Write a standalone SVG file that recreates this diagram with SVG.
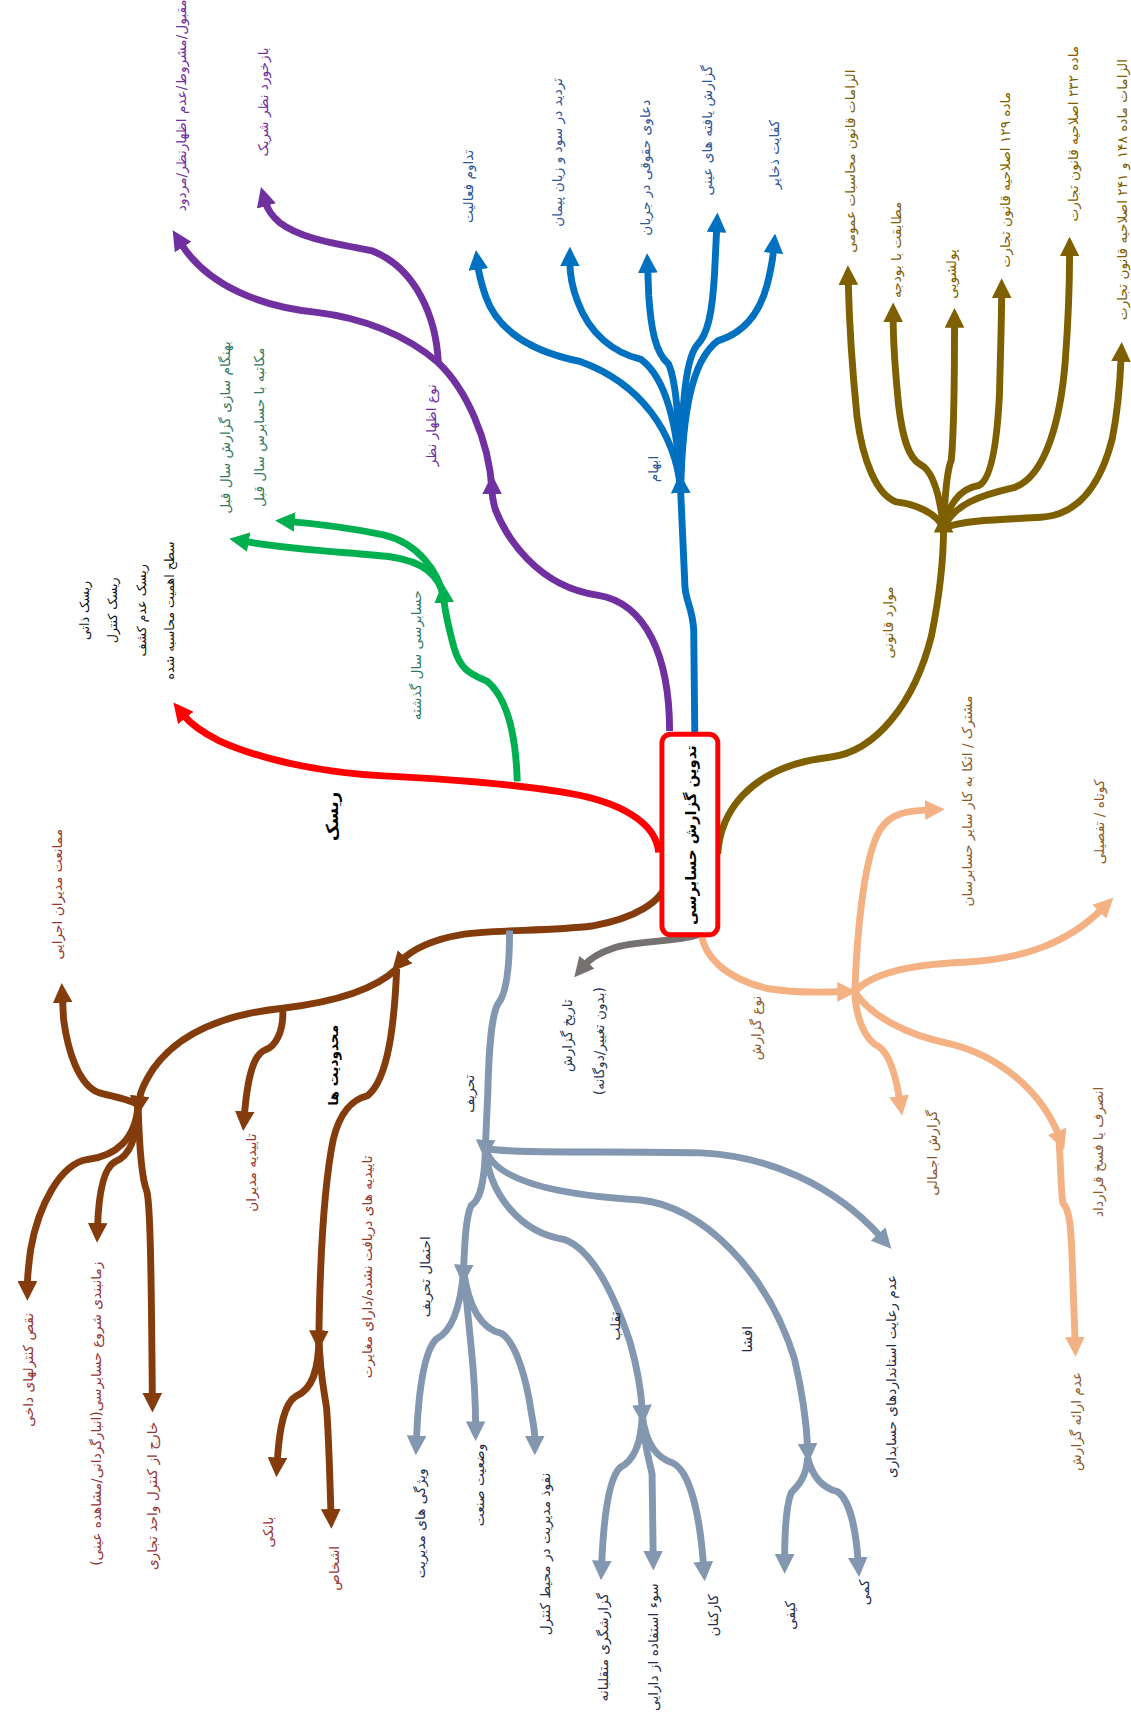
<svg xmlns="http://www.w3.org/2000/svg" width="1131" height="1719" viewBox="0 0 1131 1719">
<style>
.c{fill:none;stroke-width:6.3;stroke-linecap:butt;stroke-linejoin:round}
.t{font-family:"DejaVu Sans","Noto Sans",sans-serif;font-size:12.5px;text-anchor:middle;dominant-baseline:central;direction:rtl}
.b{font-weight:bold;fill:#000}
.k{fill:#111}
.g{fill:#357a63}
.p{fill:#7030a0}
.bl{fill:#2f5597}
.o{fill:#7f6000}
.pe{fill:#8b5a2b}
.gr{fill:#263a55}
.br{fill:#943634}
.gb{fill:#1f2d4a}
</style>
<defs>
<marker id="mR" viewBox="0 0 18 18" refX="4" refY="9" markerWidth="18" markerHeight="18" markerUnits="userSpaceOnUse" orient="auto"><path d="M0,0 L18,9 L0,18 z" fill="#ff0000"/></marker>
<marker id="mG" viewBox="0 0 18 18" refX="4" refY="9" markerWidth="18" markerHeight="18" markerUnits="userSpaceOnUse" orient="auto"><path d="M0,0 L18,9 L0,18 z" fill="#00b050"/></marker>
<marker id="mP" viewBox="0 0 18 18" refX="4" refY="9" markerWidth="18" markerHeight="18" markerUnits="userSpaceOnUse" orient="auto"><path d="M0,0 L18,9 L0,18 z" fill="#7030a0"/></marker>
<marker id="mB" viewBox="0 0 18 18" refX="4" refY="9" markerWidth="18" markerHeight="18" markerUnits="userSpaceOnUse" orient="auto"><path d="M0,0 L18,9 L0,18 z" fill="#0070c0"/></marker>
<marker id="mO" viewBox="0 0 18 18" refX="4" refY="9" markerWidth="18" markerHeight="18" markerUnits="userSpaceOnUse" orient="auto"><path d="M0,0 L18,9 L0,18 z" fill="#7f6000"/></marker>
<marker id="mPe" viewBox="0 0 18 18" refX="4" refY="9" markerWidth="18" markerHeight="18" markerUnits="userSpaceOnUse" orient="auto"><path d="M0,0 L18,9 L0,18 z" fill="#f4b183"/></marker>
<marker id="mGr" viewBox="0 0 18 18" refX="4" refY="9" markerWidth="18" markerHeight="18" markerUnits="userSpaceOnUse" orient="auto"><path d="M0,0 L18,9 L0,18 z" fill="#767171"/></marker>
<marker id="mBr" viewBox="0 0 18 18" refX="4" refY="9" markerWidth="18" markerHeight="18" markerUnits="userSpaceOnUse" orient="auto"><path d="M0,0 L18,9 L0,18 z" fill="#843c0c"/></marker>
<marker id="mGb" viewBox="0 0 18 18" refX="4" refY="9" markerWidth="18" markerHeight="18" markerUnits="userSpaceOnUse" orient="auto"><path d="M0,0 L18,9 L0,18 z" fill="#8497b0"/></marker>
</defs>
<rect width="1131" height="1719" fill="#fff"/>
<g transform="scale(1.0959)">
<g id="connectors">
<path class="c" stroke="#ff0000" marker-end="url(#mR)" d="M601 778 C599 750 565 732 520 724 C470 715 410 711 350 708 C290 705 235 692 200 676 C186 669 175 662 167 652"/>
<path class="c" stroke="#00b050" marker-end="url(#mG)" d="M472 713 C471 680 466 640 445 622 C430 615 420 612 414 590 C410 575 406 560 405 546"/>
<path class="c" stroke="#00b050" marker-end="url(#mG)" d="M405 546 C400 520 380 495 350 488 C320 482 290 478 265 476"/>
<path class="c" stroke="#00b050" marker-end="url(#mG)" d="M405 546 C402 525 385 512 356 508 C320 504 270 502 223 494"/>
<path class="c" stroke="#7030a0" marker-end="url(#mP)" d="M611 667 C611 600 590 550 545 543 C490 535 462 490 452 465 C450 458 449 452 449 447"/>
<path class="c" stroke="#7030a0" marker-end="url(#mP)" d="M449 447 C446 400 425 355 400 331 C370 305 330 290 289 285 C240 280 190 262 165 222"/>
<path class="c" stroke="#7030a0" marker-end="url(#mP)" d="M400 331 C398 290 380 245 340 229 C305 222 275 218 255 203 C248 197 244 191 242 184"/>
<path class="c" stroke="#0070c0" marker-end="url(#mB)" d="M634 670 L633 575 C632 555 626 550 625 535 L621 446"/>
<path class="c" stroke="#0070c0" marker-end="url(#mB)" d="M621 446 C616 395 585 350 530 330 C490 322 455 305 443 270 C439 258 437 250 436 242"/>
<path class="c" stroke="#0070c0" marker-end="url(#mB)" d="M621 446 C619 390 608 345 585 328 C560 322 538 305 527 275 C522 262 520 250 520 239"/>
<path class="c" stroke="#0070c0" marker-end="url(#mB)" d="M621 446 C620 395 618 350 610 332 C598 322 594 300 592 270 L591 245"/>
<path class="c" stroke="#0070c0" marker-end="url(#mB)" d="M621 446 C622 380 624 330 636 315 C646 305 650 285 652 250 L654 208"/>
<path class="c" stroke="#0070c0" marker-end="url(#mB)" d="M621 446 C623 380 630 330 655 311 C675 305 692 290 700 260 C703 248 705 238 706 227"/>
<path class="c" stroke="#7f6000" marker-end="url(#mO)" d="M655 779 C657 745 680 700 757 691 C800 686 835 640 850 580 C858 540 861 505 861 482"/>
<path class="c" stroke="#7f6000" marker-end="url(#mO)" d="M861 482 C855 468 835 460 818 458 C800 452 787 420 782 380 C778 340 775 300 774 256"/>
<path class="c" stroke="#7f6000" marker-end="url(#mO)" d="M861 482 C858 455 852 430 840 424 C828 418 823 395 820 370 C817 340 815 315 815 290"/>
<path class="c" stroke="#7f6000" marker-end="url(#mO)" d="M861 482 C862 455 864 430 868 420 C870 400 871 350 871 295"/>
<path class="c" stroke="#7f6000" marker-end="url(#mO)" d="M861 482 C865 462 875 446 893 443 C905 438 910 400 912 360 C913 320 914 290 914 268"/>
<path class="c" stroke="#7f6000" marker-end="url(#mO)" d="M861 482 C870 460 895 452 925 445 C955 435 968 380 972 330 C975 290 976 260 976 230"/>
<path class="c" stroke="#7f6000" marker-end="url(#mO)" d="M861 482 C880 474 920 474 950 472 C985 470 1005 440 1015 400 C1020 375 1022 350 1023 326"/>
<path class="c" stroke="#f4b183" marker-end="url(#mPe)" d="M640 853 C643 872 660 892 700 902 C730 907 750 905 768 905"/>
<path class="c" stroke="#f4b183" marker-end="url(#mPe)" d="M780 905 C782 850 788 790 800 763 C808 745 820 740 848 739"/>
<path class="c" stroke="#f4b183" marker-end="url(#mPe)" d="M780 905 C795 888 830 880 880 878 C935 875 975 860 1006 829"/>
<path class="c" stroke="#f4b183" marker-end="url(#mPe)" d="M780 905 C781 930 790 950 802 955 C812 962 818 985 821 1004"/>
<path class="c" stroke="#f4b183" marker-end="url(#mPe)" d="M780 905 C795 928 830 945 865 952 C910 962 950 995 966 1036"/>
<path class="c" stroke="#f4b183" marker-end="url(#mPe)" d="M966 1036 C968 1060 968 1090 970 1098 C976 1104 977 1120 978 1140 L981 1224"/>
<path class="c" stroke="#767171" marker-end="url(#mGr)" d="M637 853 C615 860 580 858 560 865 C548 869 538 875 533 881"/>
<path class="c" stroke="#843c0c" marker-end="url(#mBr)" d="M608 805 C605 822 580 838 540 845 C500 850 450 848 420 853 C395 857 375 867 367 876"/>
<path class="c" stroke="#843c0c" marker-end="url(#mBr)" d="M362 884 C340 905 300 915 258 920 C210 925 165 940 140 975 C132 987 128 995 127 1004"/>
<path class="c" stroke="#843c0c" marker-end="url(#mBr)" d="M258 921 C259 940 252 955 242 958 C232 962 226 980 223 1018"/>
<path class="c" stroke="#843c0c" marker-end="url(#mBr)" d="M362 884 C360 930 355 985 335 1000 C322 1003 310 1015 304 1040 C296 1080 292 1150 291 1218"/>
<path class="c" stroke="#843c0c" marker-end="url(#mBr)" d="M291 1220 C291 1250 285 1268 270 1274 C260 1280 255 1300 253 1334"/>
<path class="c" stroke="#843c0c" marker-end="url(#mBr)" d="M291 1220 C292 1255 296 1270 298 1285 C300 1310 301 1350 302 1381"/>
<path class="c" stroke="#843c0c" marker-end="url(#mBr)" d="M126 1008 C118 1003 100 1000 90 997 C72 990 62 960 58 930 L57 911"/>
<path class="c" stroke="#843c0c" marker-end="url(#mBr)" d="M126 1008 C124 1040 105 1055 80 1058 C55 1062 35 1100 28 1140 C26 1155 25 1165 25 1173"/>
<path class="c" stroke="#843c0c" marker-end="url(#mBr)" d="M126 1008 C125 1040 118 1055 105 1060 C94 1066 90 1090 89 1120"/>
<path class="c" stroke="#843c0c" marker-end="url(#mBr)" d="M126 1008 C127 1045 129 1075 134 1087 C137 1100 138 1150 139 1275"/>
<path class="c" stroke="#8497b0" marker-end="url(#mGb)" d="M465 849 C465 880 463 905 455 915 C448 925 446 960 445 1000 L443 1044"/>
<path class="c" stroke="#8497b0" marker-end="url(#mGb)" d="M443 1048 C470 1053 560 1050 640 1052 C700 1055 760 1080 804 1129"/>
<path class="c" stroke="#8497b0" marker-end="url(#mGb)" d="M443 1048 C450 1075 500 1090 584 1095 C640 1100 700 1160 725 1240 C732 1270 736 1300 737 1321"/>
<path class="c" stroke="#8497b0" marker-end="url(#mGb)" d="M443 1048 C446 1090 475 1125 515 1131 C540 1140 560 1180 575 1225 C582 1250 585 1270 586 1286"/>
<path class="c" stroke="#8497b0" marker-end="url(#mGb)" d="M443 1048 C442 1080 438 1095 430 1100 C425 1110 424 1135 423 1158"/>
<path class="c" stroke="#8497b0" marker-end="url(#mGb)" d="M423 1160 C420 1195 412 1215 398 1222 C388 1232 382 1265 380 1314"/>
<path class="c" stroke="#8497b0" marker-end="url(#mGb)" d="M423 1160 C426 1190 428 1210 430 1230 C433 1260 434 1285 434 1301"/>
<path class="c" stroke="#8497b0" marker-end="url(#mGb)" d="M423 1160 C428 1195 440 1213 458 1217 C470 1225 480 1255 485 1290 C487 1300 488 1308 488 1314"/>
<path class="c" stroke="#8497b0" marker-end="url(#mGb)" d="M586 1292 C585 1318 578 1333 566 1339 C556 1348 551 1380 549 1428"/>
<path class="c" stroke="#8497b0" marker-end="url(#mGb)" d="M586 1292 C588 1320 593 1335 595 1345 L596 1419"/>
<path class="c" stroke="#8497b0" marker-end="url(#mGb)" d="M586 1292 C590 1320 600 1330 614 1335 C628 1342 638 1375 642 1429"/>
<path class="c" stroke="#8497b0" marker-end="url(#mGb)" d="M737 1330 C736 1348 728 1356 722 1362 C717 1375 716 1400 716 1422"/>
<path class="c" stroke="#8497b0" marker-end="url(#mGb)" d="M737 1330 C742 1350 752 1358 764 1361 C775 1368 781 1395 783 1425"/>
</g>
<g id="root"><rect x="604" y="670" width="51" height="183" rx="8" fill="#fff" stroke="#ff0000" stroke-width="4.5"/><text class="t b" style="font-size:13.5px" x="630" y="762" transform="rotate(-90 630 762)">تدوین گزارش حسابرسی</text></g>
<g id="risk"><text class="t b" style="font-size:15px" x="303" y="745" transform="rotate(-90 303 745)">ریسک</text></g>
<g id="risk-items">
<text class="t k" style="font-size:11.5px" x="77" y="557" transform="rotate(-90 77 557)">ریسک ذاتی</text>
<text class="t k" style="font-size:11.5px" x="103" y="557" transform="rotate(-90 103 557)">ریسک کنترل</text>
<text class="t k" style="font-size:11.5px" x="129" y="557" transform="rotate(-90 129 557)">ریسک عدم کشف</text>
<text class="t k" style="font-size:11.5px" x="155" y="557" transform="rotate(-90 155 557)">سطح اهمیت محاسبه شده</text>
</g>
<g id="prev-audit"><text class="t g" x="380" y="598" transform="rotate(-90 380 598)">حسابرسی سال گذشته</text></g>
<g id="prev-update"><text class="t g" x="205" y="390" transform="rotate(-90 205 390)">بهنگام سازی گزارش سال قبل</text></g>
<g id="prev-letter"><text class="t g" x="236" y="390" transform="rotate(-90 236 390)">مکاتبه با حسابرس سال قبل</text></g>
<g id="opinion"><text class="t p" x="393" y="388" transform="rotate(-90 393 388)">نوع اظهار نظر</text></g>
<g id="opinion-types"><text class="t p" x="165" y="96" transform="rotate(-90 165 96)">مقبول/مشروط/عدم اظهارنظر/مردود</text></g>
<g id="opinion-feedback"><text class="t p" x="240" y="93" transform="rotate(-90 240 93)">بازخورد نظر شریک</text></g>
<g id="ambiguity"><text class="t bl" x="596" y="428" transform="rotate(-90 596 428)">ابهام</text></g>
<g id="amb-1"><text class="t bl" x="427" y="170" transform="rotate(-90 427 170)">تداوم فعالیت</text></g>
<g id="amb-2"><text class="t bl" x="508" y="139" transform="rotate(-90 508 139)">تردید در سود و زیان پیمان</text></g>
<g id="amb-3"><text class="t bl" x="589" y="153" transform="rotate(-90 589 153)">دعاوی حقوقی در جریان</text></g>
<g id="amb-4"><text class="t bl" x="645" y="119" transform="rotate(-90 645 119)">گزارش یافته های عینی</text></g>
<g id="amb-5"><text class="t bl" x="706" y="141" transform="rotate(-90 706 141)">کفایت ذخایر</text></g>
<g id="legal"><text class="t o" x="810" y="568" transform="rotate(-90 810 568)">موارد قانونی</text></g>
<g id="legal-1"><text class="t o" x="776" y="147" transform="rotate(-90 776 147)">الزامات قانون محاسبات عمومی</text></g>
<g id="legal-2"><text class="t o" x="818" y="228" transform="rotate(-90 818 228)">مطابقت با بودجه</text></g>
<g id="legal-3"><text class="t o" x="868" y="250" transform="rotate(-90 868 250)">پولشویی</text></g>
<g id="legal-4"><text class="t o" x="917" y="164" transform="rotate(-90 917 164)">ماده ۱۲۹ اصلاحیه قانون تجارت</text></g>
<g id="legal-5"><text class="t o" x="979" y="122" transform="rotate(-90 979 122)">ماده ۲۳۲ اصلاحیه قانون تجارت</text></g>
<g id="legal-6"><text class="t o" x="1024" y="173" transform="rotate(-90 1024 173)">الزامات ماده ۱۴۸ و ۲۴۱ اصلاحیه قانون تجارت</text></g>
<g id="report-type"><text class="t pe" x="690" y="938" transform="rotate(-90 690 938)">نوع گزارش</text></g>
<g id="rt-1"><text class="t pe" x="882" y="731" transform="rotate(-90 882 731)">مشترک / اتکا به کار سایر حسابرسان</text></g>
<g id="rt-2"><text class="t pe" x="1003" y="750" transform="rotate(-90 1003 750)">کوتاه / تفصیلی</text></g>
<g id="rt-3"><text class="t pe" x="850" y="1052" transform="rotate(-90 850 1052)">گزارش اجمالی</text></g>
<g id="rt-4"><text class="t pe" x="1002" y="1051" transform="rotate(-90 1002 1051)">انصرف یا فسخ قرارداد</text></g>
<g id="rt-5"><text class="t pe" x="982" y="1297" transform="rotate(-90 982 1297)">عدم ارائه گزارش</text></g>
<g id="report-date"><text class="t gr" x="517" y="945" transform="rotate(-90 517 945)">تاریخ گزارش</text><text class="t gr" x="547" y="950" transform="rotate(-90 547 950)">(بدون تغییر/دوگانه)</text></g>
<g id="limits"><text class="t b" x="304" y="972" transform="rotate(-90 304 972)">محدودیت ها</text></g>
<g id="lim-1"><text class="t br" x="52" y="816" transform="rotate(-90 52 816)">ممانعت مدیران اجرایی</text></g>
<g id="lim-2"><text class="t br" x="26" y="1250" transform="rotate(-90 26 1250)">نقص کنترلهای داخی</text></g>
<g id="lim-3"><text class="t br" x="88" y="1290" transform="rotate(-90 88 1290)">زمانبندی شروع حسابرسی(انبارگردانی/مشاهده عینی)</text></g>
<g id="lim-4"><text class="t br" x="139" y="1365" transform="rotate(-90 139 1365)">خارج از کنترل واحد تجاری</text></g>
<g id="lim-5"><text class="t br" x="229" y="1070" transform="rotate(-90 229 1070)">تاییدیه مدیران</text></g>
<g id="lim-6"><text class="t br" x="335" y="1156" transform="rotate(-90 335 1156)">تاییدیه های دریافت نشده/دارای مغایرت</text></g>
<g id="lim-7"><text class="t br" x="245" y="1398" transform="rotate(-90 245 1398)">بانکی</text></g>
<g id="lim-8"><text class="t br" x="305" y="1431" transform="rotate(-90 305 1431)">اشخاص</text></g>
<g id="misstate"><text class="t gb" x="428" y="998" transform="rotate(-90 428 998)">تحریف</text></g>
<g id="ms-1"><text class="t gb" x="388" y="1165" transform="rotate(-90 388 1165)">احتمال تحریف</text></g>
<g id="ms-2"><text class="t gb" x="561" y="1210" transform="rotate(-90 561 1210)">تقلب</text></g>
<g id="ms-3"><text class="t gb" x="682" y="1222" transform="rotate(-90 682 1222)">افشا</text></g>
<g id="ms-4"><text class="t gb" x="813" y="1256" transform="rotate(-90 813 1256)">عدم رعایت استانداردهای حسابداری</text></g>
<g id="ms-5"><text class="t gb" x="383" y="1390" transform="rotate(-90 383 1390)">ویژگی های مدیریت</text></g>
<g id="ms-6"><text class="t gb" x="437" y="1355" transform="rotate(-90 437 1355)">وضعیت صنعت</text></g>
<g id="ms-7"><text class="t gb" x="497" y="1418" transform="rotate(-90 497 1418)">نفوذ مدیریت در محیط کنترل</text></g>
<g id="ms-8"><text class="t gb" x="550" y="1503" transform="rotate(-90 550 1503)">گزارشگری متقلبانه</text></g>
<g id="ms-9"><text class="t gb" x="596" y="1503" transform="rotate(-90 596 1503)">سوء استفاده از دارایی</text></g>
<g id="ms-10"><text class="t gb" x="651" y="1474" transform="rotate(-90 651 1474)">کارکنان</text></g>
<g id="ms-11"><text class="t gb" x="721" y="1474" transform="rotate(-90 721 1474)">کیفی</text></g>
<g id="ms-12"><text class="t gb" x="788" y="1453" transform="rotate(-90 788 1453)">کمی</text></g>
</g>
</svg>
